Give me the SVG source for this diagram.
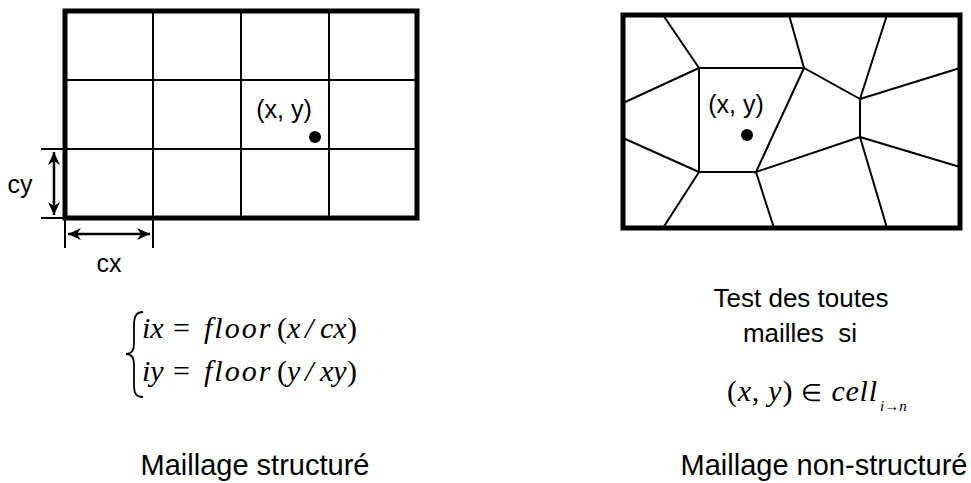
<svg xmlns="http://www.w3.org/2000/svg" width="971" height="483" viewBox="0 0 971 483">
<style>
.border{fill:none;stroke:#000;stroke-width:5}
.thin{fill:none;stroke:#000;stroke-width:2}
.lbl{font-family:"Liberation Sans",Arial,sans-serif;fill:#000}
.math{font-family:"Liberation Serif","Times New Roman",serif;fill:#000}
.f30{font-size:30px}
.it{font-style:italic}
</style>
<defs>
<marker id="ah" markerWidth="14" markerHeight="14" refX="13" refY="7" orient="auto-start-reverse" markerUnits="userSpaceOnUse">
<path d="M0,1 L13,7 L0,13 L4,7 Z" fill="#000"/>
</marker>
</defs>
<rect width="971" height="483" fill="#fff"/>

<g id="structured-mesh">
<g class="thin">
<line x1="153" y1="11" x2="153" y2="218"/>
<line x1="241" y1="11" x2="241" y2="218"/>
<line x1="329" y1="11" x2="329" y2="218"/>
<line x1="65" y1="80" x2="417" y2="80"/>
<line x1="41" y1="149" x2="417" y2="149"/>
<line x1="41" y1="218" x2="65" y2="218"/>
<line x1="65" y1="218" x2="65" y2="248"/>
<line x1="153" y1="218" x2="153" y2="248"/>
</g>
<rect class="border" x="65" y="11" width="352" height="207"/>
<circle cx="315" cy="137" r="6" fill="#000"/>
<text class="lbl" x="284" y="118" font-size="25" text-anchor="middle">(x, y)</text>
</g>

<g id="connectors">
<line x1="54" y1="152" x2="54" y2="215" stroke="#000" stroke-width="2.5" marker-start="url(#ah)" marker-end="url(#ah)"/>
<line x1="68" y1="234" x2="150" y2="234" stroke="#000" stroke-width="2.5" marker-start="url(#ah)" marker-end="url(#ah)"/>
</g>

<g id="dim-labels">
<text class="lbl" x="20" y="193" font-size="25" text-anchor="middle">cy</text>
<text class="lbl" x="109" y="272" font-size="25" text-anchor="middle">cx</text>
</g>

<g id="unstructured-mesh">
<g class="thin">
<line x1="663" y1="15" x2="699" y2="68"/>
<line x1="789" y1="15" x2="804" y2="68"/>
<line x1="887" y1="15" x2="860" y2="99"/>
<polyline points="699,68 804,68 860,99 860,137"/>
<line x1="860" y1="99" x2="960" y2="68"/>
<line x1="860" y1="137" x2="960" y2="167"/>
<polyline points="860,137 756,172 804,68"/>
<polyline points="756,172 699,172 699,68"/>
<line x1="699" y1="68" x2="623" y2="103"/>
<line x1="699" y1="172" x2="623" y2="138"/>
<line x1="699" y1="172" x2="663" y2="228"/>
<line x1="756" y1="172" x2="774" y2="228"/>
<line x1="860" y1="137" x2="887" y2="228"/>
</g>
<rect class="border" x="623" y="15" width="337" height="213"/>
<circle cx="747" cy="135" r="6" fill="#000"/>
<text class="lbl" x="736" y="113" font-size="25" text-anchor="middle">(x, y)</text>
</g>

<g id="structured-formula">
<path d="M143,312 C135,312 134,318 134,326 L134,344 C134,350 132,354 126,354 C132,354 134,358 134,364 L134,384 C134,392 135,397 143,397" fill="none" stroke="#000" stroke-width="1.8"/>
<text class="math f30" y="338"><tspan class="it" x="142">ix</tspan><tspan x="173">=</tspan><tspan class="it" x="204" letter-spacing="2">floor</tspan><tspan x="277">(</tspan><tspan class="it" x="287">x</tspan><tspan class="it" x="305">/</tspan><tspan class="it" x="320">cx</tspan><tspan x="347">)</tspan></text>
<text class="math f30" y="381"><tspan class="it" x="142">iy</tspan><tspan x="173">=</tspan><tspan class="it" x="204" letter-spacing="2">floor</tspan><tspan x="277">(</tspan><tspan class="it" x="287">y</tspan><tspan class="it" x="305">/</tspan><tspan class="it" x="320">xy</tspan><tspan x="347">)</tspan></text>
</g>

<g id="unstructured-text">
<text class="lbl" x="801" y="307" font-size="26" text-anchor="middle">Test des toutes</text>
<text class="lbl" x="800" y="342" font-size="26" text-anchor="middle" xml:space="preserve">mailles  si</text>
<text class="math f30" x="727" y="401" textLength="150" lengthAdjust="spacing">(<tspan class="it">x</tspan>, <tspan class="it">y</tspan>) <tspan style="font-size:24px">∈</tspan> <tspan class="it">cell</tspan></text>
<text class="math it" x="880" y="411" font-size="15">i→n</text>
</g>

<g id="titles">
<text class="lbl" x="255" y="475" font-size="29" text-anchor="middle">Maillage structuré</text>
<text class="lbl" x="824" y="475" font-size="29" text-anchor="middle">Maillage non-structuré</text>
</g>
</svg>
